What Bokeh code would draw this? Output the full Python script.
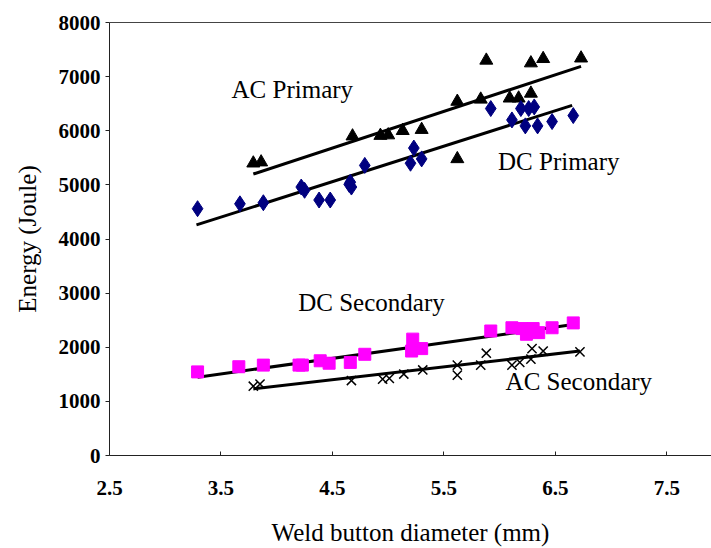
from bokeh.plotting import figure
from bokeh.models import Range1d, FixedTicker, LinearAxis
from bokeh.core.properties import value
from bokeh.embed import file_html
from bokeh.resources import INLINE

# ---- data ----
ac_pri_x = [3.79, 3.86, 4.68, 4.93, 5.00, 5.13, 5.30, 5.62, 5.62, 5.83, 5.88, 6.09, 6.17, 6.28, 6.28, 6.39, 6.73]
ac_pri_y = [5400, 5420, 5900, 5910, 5920, 6000, 6020, 5480, 6540, 6580, 7300, 6600, 6600, 6690, 7250, 7330, 7340]

dc_pri_x = [3.29, 3.67, 3.88, 4.22, 4.25, 4.38, 4.48, 4.65, 4.67, 4.66, 4.79, 5.20, 5.23, 5.30, 5.92, 6.11, 6.19, 6.23, 6.26, 6.31, 6.34, 6.47, 6.66]
dc_pri_y = [4560, 4650, 4670, 4960, 4900, 4720, 4720, 5010, 4960, 5050, 5360, 5400, 5680, 5480, 6410, 6200, 6410, 6090, 6410, 6440, 6090, 6170, 6280]

dc_sec_x = [3.29, 3.66, 3.88, 4.20, 4.23, 4.39, 4.47, 4.66, 4.79, 5.21, 5.22, 5.30, 5.92, 6.11, 6.20, 6.24, 6.30, 6.35, 6.47, 6.66]
dc_sec_y = [1545, 1640, 1670, 1670, 1670, 1750, 1705, 1720, 1870, 1930, 2150, 1975, 2300, 2360, 2345, 2240, 2345, 2270, 2360, 2450]

ac_sec_x = [3.79, 3.85, 4.67, 4.95, 5.01, 5.14, 5.31, 5.62, 5.62, 5.83, 5.88, 6.11, 6.18, 6.28, 6.29, 6.39, 6.72]
ac_sec_y = [1280, 1320, 1385, 1410, 1425, 1505, 1580, 1670, 1485, 1670, 1890, 1670, 1720, 1780, 1975, 1930, 1915]

# trend lines (end points)
ac_pri_fit_x = [3.79, 6.73]
ac_pri_fit_y = [5200, 7190]
dc_pri_fit_x = [3.28, 6.65]
dc_pri_fit_y = [4260, 6470]
dc_sec_fit_x = [3.29, 6.66]
dc_sec_fit_y = [1445, 2420]
ac_sec_fit_x = [3.79, 6.72]
ac_sec_fit_y = [1230, 1930]

label_text = ["AC Primary", "DC Primary", "DC Secondary", "AC Secondary"]
label_x = [4.14, 6.53, 4.85, 6.71]
label_y = [6765, 5438, 2820, 1364]

x_ticks = [2.5, 3.5, 4.5, 5.5, 6.5, 7.5]
y_ticks = [0, 1000, 2000, 3000, 4000, 5000, 6000, 7000, 8000]

SERIF = "Liberation Serif"

p = figure(width=711, height=548, output_backend="svg", toolbar_location=None,
           x_range=Range1d(2.5, 7.9), y_range=Range1d(0, 8000),
           min_border_left=109, min_border_right=0, min_border_top=22, min_border_bottom=92)
p.outline_line_color = None
p.xgrid.visible = False
p.ygrid.visible = False
p.background_fill_color = "white"
p.border_fill_color = "white"

# axes
xa = p.xaxis[0]
xa.ticker = FixedTicker(ticks=x_ticks)
xa.axis_label = "Weld button diameter (mm)"
xa.major_tick_in = 4
xa.major_tick_out = 0
xa.minor_tick_in = 0
xa.minor_tick_out = 0
xa.major_label_standoff = 25
xa.axis_label_standoff = 21

ya = p.yaxis[0]
ya.ticker = FixedTicker(ticks=y_ticks)
ya.axis_label = "Energy (Joule)"
ya.major_tick_in = 0
ya.major_tick_out = 4
ya.minor_tick_in = 0
ya.minor_tick_out = 0
ya.major_label_standoff = 5
ya.axis_label_standoff = 15

for ax in (xa, ya):
    ax.axis_line_color = "#222222"
    ax.axis_line_width = 1
    ax.major_tick_line_color = "#222222"
    ax.major_label_text_font = SERIF
    ax.major_label_text_font_style = "bold"
    ax.major_label_text_font_size = "21px"
    ax.major_label_text_color = "black"
    ax.axis_label_text_font = SERIF
    ax.axis_label_text_font_style = "normal"
    ax.axis_label_text_font_size = "25px"
    ax.axis_label_text_color = "black"

top = LinearAxis(ticker=FixedTicker(ticks=[]), major_label_text_font_size="0px",
                 major_tick_in=0, major_tick_out=0, minor_tick_in=0, minor_tick_out=0,
                 major_label_standoff=0, axis_line_color="#444444")
p.add_layout(top, "above")

# trend lines
for fx, fy in ((ac_pri_fit_x, ac_pri_fit_y), (dc_pri_fit_x, dc_pri_fit_y),
               (dc_sec_fit_x, dc_sec_fit_y), (ac_sec_fit_x, ac_sec_fit_y)):
    p.line(fx, fy, line_color="black", line_width=3)

# markers
p.scatter(ac_pri_x, ac_pri_y, marker="triangle", size=13, fill_color="black", line_color="black")
p.scatter(dc_pri_x, dc_pri_y, marker="diamond", size=16, fill_color="#000080", line_color="#000080")
p.scatter(dc_sec_x, dc_sec_y, marker="square", size=12, fill_color="#FF00FF", line_color="#FF00FF")
p.scatter(ac_sec_x, ac_sec_y, marker="x", size=13, line_color="black", line_width=1.5)

p.text(x=label_x, y=label_y, text=label_text, text_font=value(SERIF), text_font_size="25px",
       text_align="center", text_baseline="middle", text_color="black")

open("out.html", "w").write(file_html(p, INLINE))
